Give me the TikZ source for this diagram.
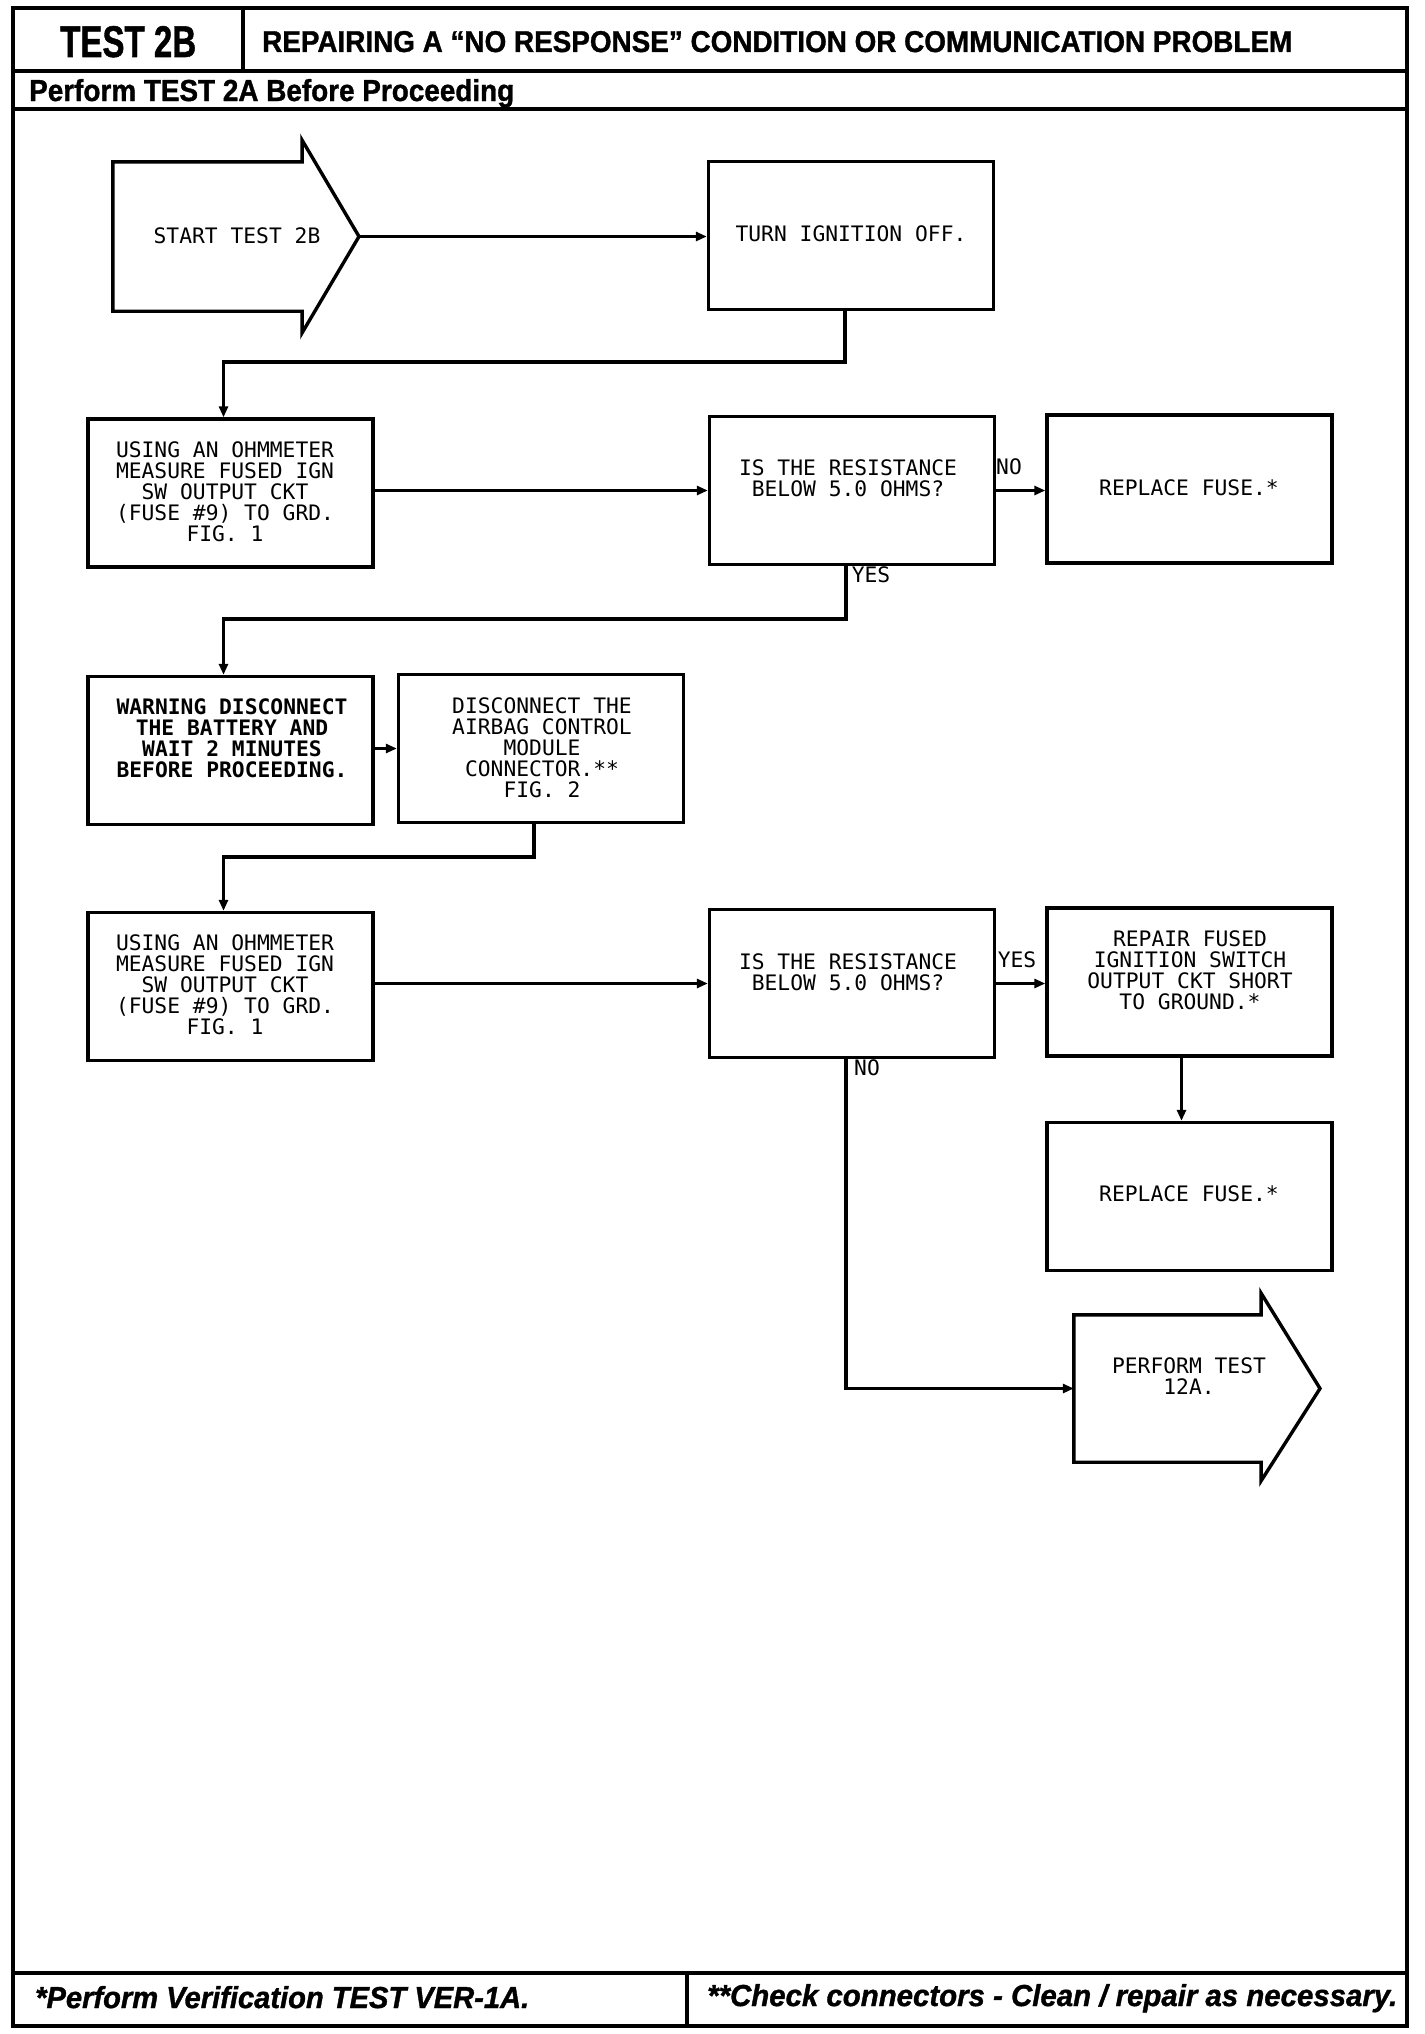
\documentclass[tikz,border=0pt]{standalone}
\usepackage{fontspec}
\usepackage{graphicx}
\usetikzlibrary{arrows.meta}
\newfontfamily\hdrfont[FakeBold=1.2]{Liberation Sans Bold}
\newfontfamily\hdritfont[FakeBold=1.2]{Liberation Sans Bold Italic}
\newfontfamily\plotfont{DejaVu Sans Mono}
\begin{document}
\begin{tikzpicture}[x=1pt,y=-1pt,
  box/.style={draw, line width=3.4pt, inner sep=0pt, minimum width=285pt, minimum height=148pt},
  body/.style={draw=none, inner sep=0pt},
  txt/.style={font=\plotfont\fontsize{21.3}{21.1}\selectfont, align=center, inner sep=0pt},
  boldtxt/.style={txt, font=\plotfont\bfseries\fontsize{21.3}{21.1}\selectfont},
  conn/.style={line width=3.2pt, -{Triangle[length=11pt,width=9pt]}},
  frame/.style={line width=3.2pt},
  shapeline/.style={line width=3.4pt, line join=miter}]
\fill[white] (0,0) rectangle (1424,2034);
\useasboundingbox (0,0) rectangle (1424,2034);

% ---------- frame ----------
\draw[frame] (13,8) rectangle (1407,2026);
\draw[frame] (243,8) -- (243,71);
\draw[frame] (13,71) -- (1407,71);
\draw[line width=4.2pt] (13,109) -- (1407,109);
\draw[frame] (13,1973) -- (1407,1973);
\draw[frame] (687,1973) -- (687,2026);

\node[anchor=base west, inner sep=0pt] (hdrA) at (60,57) {\resizebox{136pt}{31pt}{\hdrfont TEST 2B}};
\node[anchor=base west, inner sep=0pt] (hdrB) at (262,52) {\resizebox{1030pt}{21pt}{\hdrfont REPAIRING A “NO RESPONSE” CONDITION OR COMMUNICATION PROBLEM}};
\node[anchor=base west, inner sep=0pt] (hdrC) at (29,101) {\resizebox{485pt}{22pt}{\hdrfont Perform TEST 2A Before Proceeding}};
\node[anchor=base west, inner sep=0pt] (ftA) at (35,2008) {\resizebox{494pt}{22pt}{\hdritfont *Perform Verification TEST VER-1A.}};
\node[anchor=base west, inner sep=0pt] (ftB) at (707,2006) {\resizebox{690pt}{22pt}{\hdritfont **Check connectors - Clean / repair as necessary.}};

% ---------- start arrow ----------
\node[body, minimum width=189pt, minimum height=149pt] (start) at (207.5,236.5) {};
\coordinate (starttip) at (359,236.5);
\draw[shapeline] (start.south west) -- (start.north west) -- (start.north east) -- (302,140) -- (starttip) -- (302,333) -- (start.south east) -- cycle;
\node[txt] (tstart) at (237,236) {START TEST 2B};

% ---------- boxes ----------
\node[box] (turn) at (851,235.5) {};
\node[txt] (tturn) at (851,234) {TURN IGNITION OFF.};

\node[box] (box1) at (230.5,493) {};
\node[txt] (tbox1) at (225,492) {USING AN OHMMETER\\MEASURE FUSED IGN\\SW OUTPUT CKT\\(FUSE \#9) TO GRD.\\FIG. 1};

\node[box] (dec1) at (852,490.5) {};
\node[txt] (tdec1) at (848,478) {IS THE RESISTANCE\\BELOW 5.0 OHMS?};

\node[box] (fuse1) at (1189.5,489) {};
\node[txt] (tfuse1) at (1189,488) {REPLACE FUSE.*};

\node[box] (warn) at (230.5,750.5) {};
\node[boldtxt] (twarn) at (232,738) {WARNING DISCONNECT\\THE BATTERY AND\\WAIT 2 MINUTES\\BEFORE PROCEEDING.};

\node[box] (disc) at (541,748.5) {};
\node[txt] (tdisc) at (542,748) {DISCONNECT THE\\AIRBAG CONTROL\\MODULE\\CONNECTOR.**\\FIG. 2};

\node[box] (box2) at (230.5,986.5) {};
\node[txt] (tbox2) at (225,985) {USING AN OHMMETER\\MEASURE FUSED IGN\\SW OUTPUT CKT\\(FUSE \#9) TO GRD.\\FIG. 1};

\node[box] (dec2) at (852,983.5) {};
\node[txt] (tdec2) at (848,972) {IS THE RESISTANCE\\BELOW 5.0 OHMS?};

\node[box] (repair) at (1189.5,982) {};
\node[txt] (trepair) at (1190,970) {REPAIR FUSED\\IGNITION SWITCH\\OUTPUT CKT SHORT\\TO GROUND.*};

\node[box] (fuse2) at (1189.5,1196.5) {};
\node[txt] (tfuse2) at (1189,1194) {REPLACE FUSE.*};

% ---------- perform arrow ----------
\node[body, minimum width=187pt, minimum height=147pt] (perf) at (1167.5,1388.5) {};
\coordinate (perftip) at (1320,1388.5);
\draw[shapeline] (perf.south west) -- (perf.north west) -- (perf.north east) -- (1261,1293) -- (perftip) -- (1261,1481) -- (perf.south east) -- cycle;
\node[txt] (tperf) at (1189,1376) {PERFORM TEST\\12A.};

% ---------- labels ----------
\node[txt] (lno1) at (1009,467) {NO};
\node[txt] (lyes1) at (871,575) {YES};
\node[txt] (lyes2) at (1017,960) {YES};
\node[txt] (lno2) at (867,1068) {NO};

% ---------- connectors ----------
\coordinate (j1) at (223.5,362);
\coordinate (j2) at (223.5,619);
\coordinate (j3) at (223.5,857);
\draw[conn] (starttip) -- (starttip -| turn.west);
\draw[conn] ([xshift=-6pt]turn.south) |- (j1) -- ([xshift=-7pt]box1.north);
\draw[conn] (box1.east |- dec1.west) -- (dec1.west);
\draw[conn] (dec1.east) -- (dec1.east -| fuse1.west);
\draw[conn] ([xshift=-6pt]dec1.south) |- (j2) -- ([xshift=-7pt]warn.north);
\draw[conn] (warn.east |- disc.west) -- (disc.west);
\draw[conn] ([xshift=-7pt]disc.south) |- (j3) -- ([xshift=-7pt]box2.north);
\draw[conn] (box2.east |- dec2.west) -- (dec2.west);
\draw[conn] (dec2.east) -- (dec2.east -| repair.west);
\draw[conn] ([xshift=-8pt]repair.south) -- ([xshift=-8pt]fuse2.north);
\draw[conn] ([xshift=-6pt]dec2.south) |- (perf.west);
\end{tikzpicture}
\end{document}
